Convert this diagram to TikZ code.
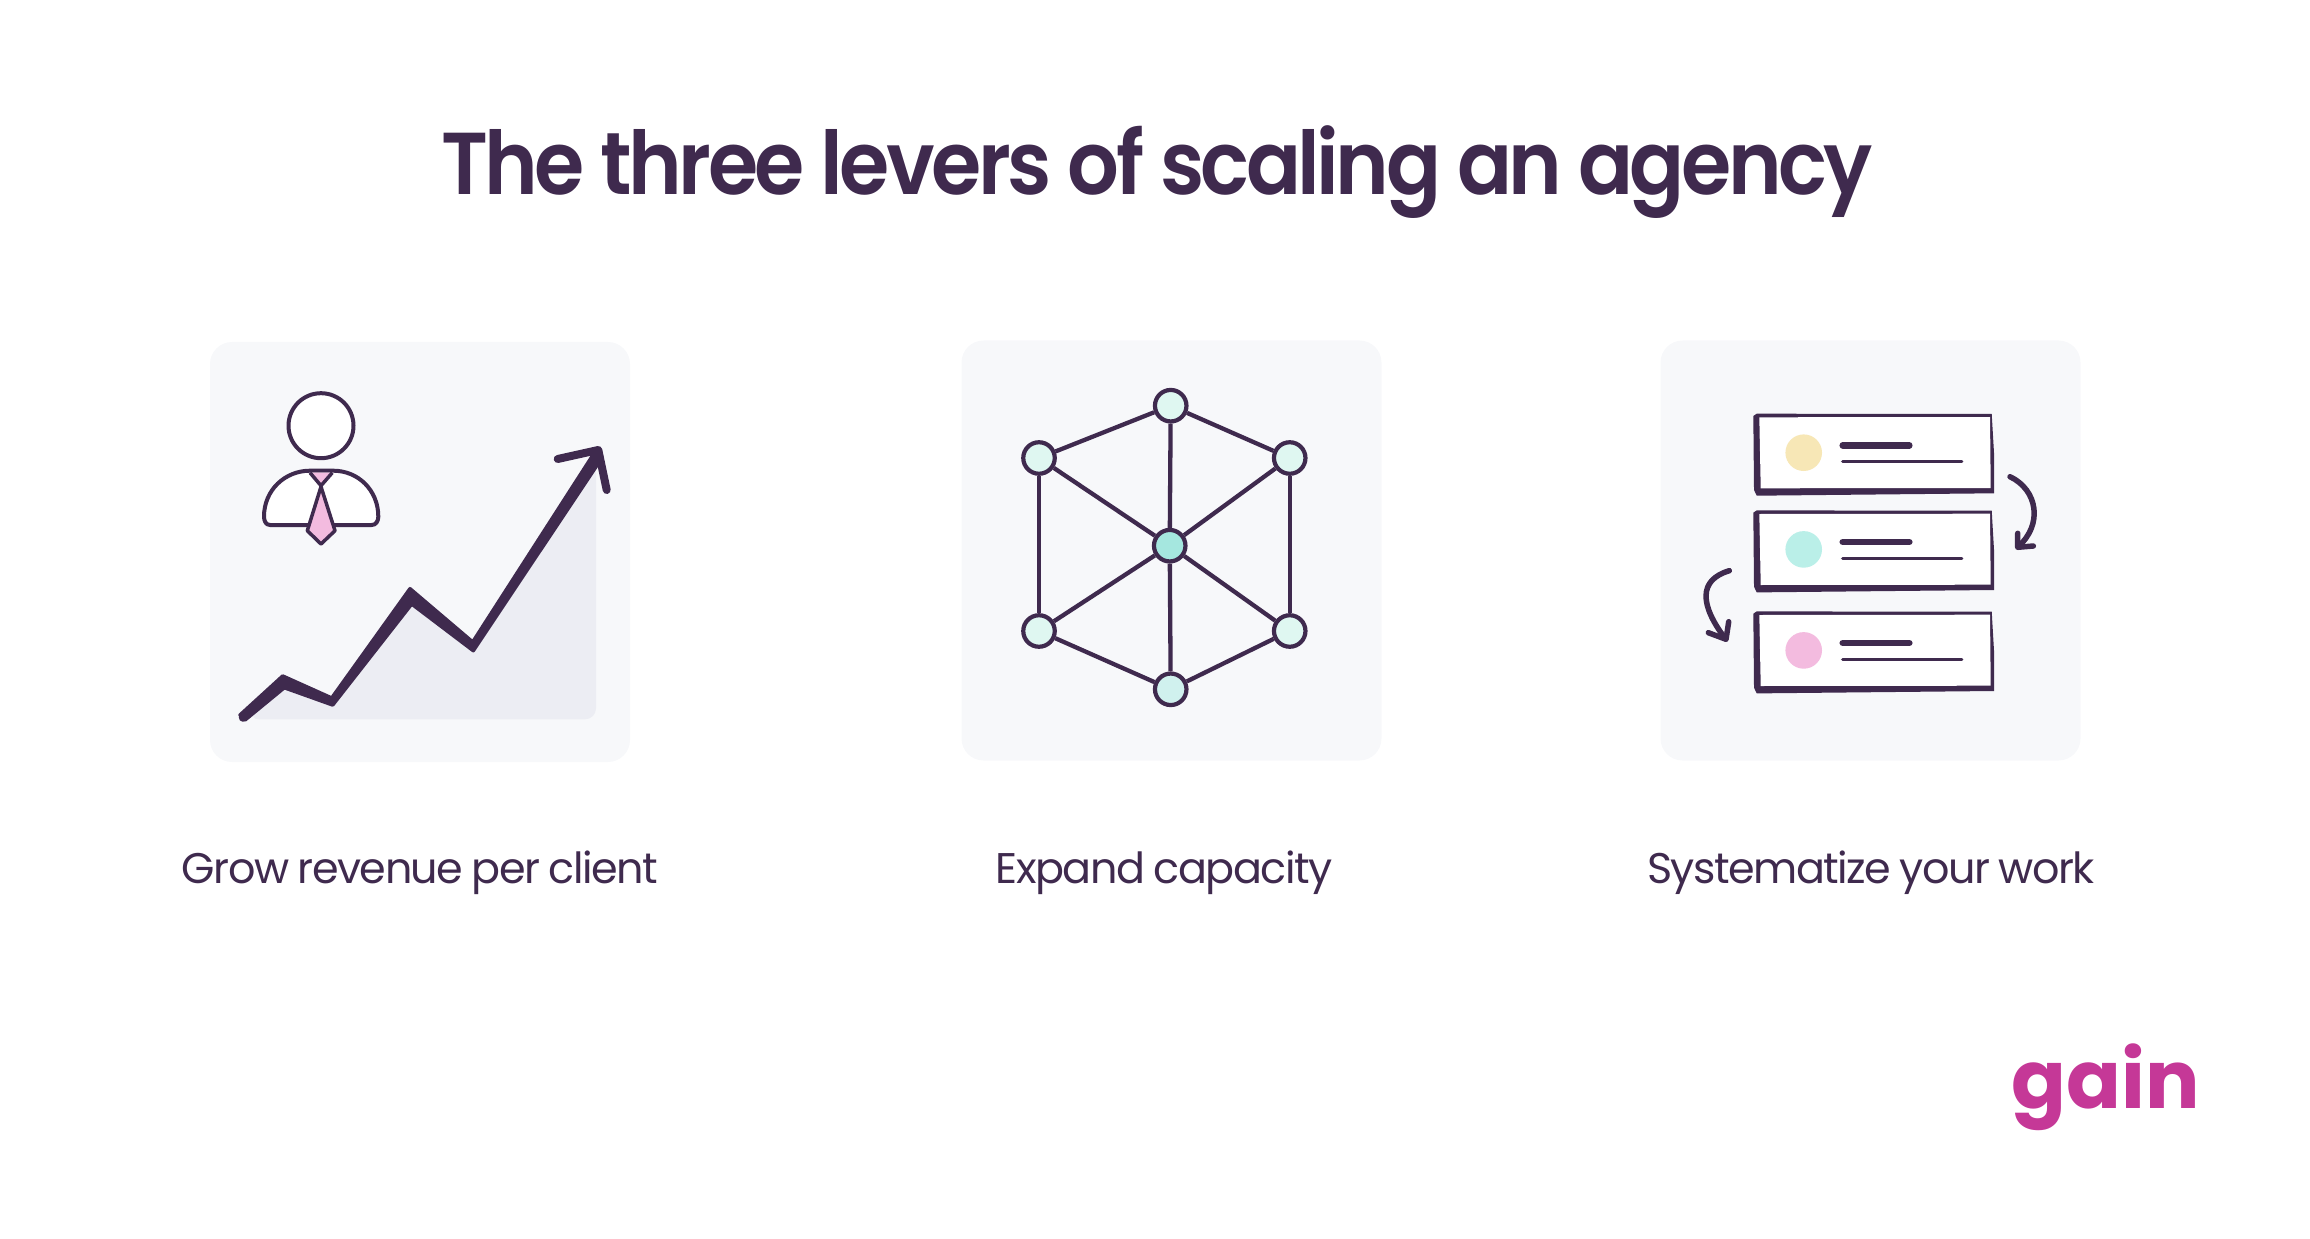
\documentclass[tikz,border=0pt]{standalone}
\usepackage{fontspec}
\setmainfont[LetterSpace=-3.5,WordSpace=.85]{Poppins}
\newfontfamily\titlefont[LetterSpace=-4,FakeStretch=.925]{Poppins SemiBold}
\newfontfamily\logofont{Poppins}
\definecolor{inkpurple}{HTML}{3F2A4E}
\definecolor{cardgrey}{HTML}{F7F8FA}
\definecolor{areagrey}{HTML}{ECEDF3}
\definecolor{tiepink}{HTML}{F3BBDF}
\definecolor{nodemint}{HTML}{DFF7F1}
\definecolor{nodeteal}{HTML}{A5E7DF}
\definecolor{nodepale}{HTML}{D0F1EE}
\definecolor{dotyellow}{HTML}{F7E7B6}
\definecolor{dotteal}{HTML}{BAEFE8}
\definecolor{logopink}{HTML}{C53897}
\tikzset{
    card/.style={fill=cardgrey, rounded corners=.22cm, minimum width=4.2cm, minimum height=4.2cm, inner sep=0},
    caption/.style={text=inkpurple, font=\fontsize{12.2}{14}\selectfont, anchor=base, inner sep=0},
    hub/.style={circle, draw=inkpurple, line width=.042cm, inner sep=0, minimum size=.315cm},
    edge/.style={draw=inkpurple, line width=.043cm},
    sketch/.style={draw=inkpurple, line width=.055cm, line cap=round, line join=round}
}
\begin{document}
\begin{tikzpicture}[y=-1cm]
    \useasboundingbox (0, 0) rectangle (23.10, 12.39);

    \node[text=inkpurple, font=\titlefont\fontsize{25}{30}\selectfont, anchor=base, inner sep=0] (title) at (11.57, 1.95) {The three levers of scaling an agency};

    \node[card] (cardgrow) at (4.20, 5.52) {};
    \node[card] (cardexpand) at (11.715, 5.505) {};
    \node[card] (cardsystem) at (18.705, 5.505) {};

    \node[caption] (capgrow) at (4.20, 8.83) {Grow revenue per client};
    \node[caption] (capexpand) at (11.64, 8.83) {Expand capacity};
    \node[caption] (capsystem) at (18.71, 8.83) {Systematize your work};

    % chart
    \fill[areagrey, rounded corners=.11cm] (2.48, 7.193) -- (2.833, 6.83) -- (3.327, 7.03) -- (4.10, 5.967) -- (4.733, 6.483) -- (5.96, 4.63) -- (5.96, 7.193) -- cycle;
    \filldraw[inkpurple, line width=.035cm, line join=round] (2.40, 7.15) -- (2.827, 6.76) -- (3.317, 6.98) -- (4.10, 5.887) -- (4.727, 6.42) -- (5.973, 4.483) -- (5.983, 4.633) -- (4.733, 6.507) -- (4.117, 6.04) -- (3.327, 7.05) -- (2.843, 6.877) -- (2.45, 7.20) -- cycle;
    \draw[inkpurple, line width=.085cm, line cap=round] (2.43, 7.175) -- (2.60, 7.02);
    \draw[inkpurple, line width=.08cm, line cap=round, line join=round] (5.577, 4.59) -- (5.983, 4.50) -- (6.067, 4.90);

    % person
    \filldraw[fill=white, draw=inkpurple, line width=.04cm] (3.21, 4.257) circle (.325);
    \filldraw[fill=white, draw=inkpurple, line width=.04cm, line join=round] (2.70, 5.25) .. controls (2.66, 5.25) and (2.64, 5.21) .. (2.64, 5.167) .. controls (2.64, 4.90) and (2.85, 4.707) .. (3.10, 4.707) -- (3.333, 4.707) .. controls (3.58, 4.707) and (3.783, 4.90) .. (3.783, 5.167) .. controls (3.783, 5.21) and (3.76, 5.25) .. (3.717, 5.25) -- cycle;
    \filldraw[fill=tiepink, draw=inkpurple, line width=.035cm, line join=round] (3.10, 4.727) -- (3.21, 4.857) -- (3.323, 4.727);
    \filldraw[fill=tiepink, draw=inkpurple, line width=.035cm, line join=round] (3.21, 4.867) -- (3.073, 5.307) -- (3.21, 5.44) -- (3.35, 5.307) -- cycle;

    % network
    \node[hub, fill=nodemint] (top) at (11.707, 4.057) {};
    \node[hub, fill=nodemint] (upleft) at (10.39, 4.58) {};
    \node[hub, fill=nodemint] (upright) at (12.897, 4.58) {};
    \node[hub, fill=nodeteal] (centre) at (11.697, 5.457) {};
    \node[hub, fill=nodemint] (lowleft) at (10.39, 6.31) {};
    \node[hub, fill=nodemint] (lowright) at (12.897, 6.31) {};
    \node[hub, fill=nodepale] (bottom) at (11.707, 6.893) {};

    \draw[edge] (top) -- (upleft);
    \draw[edge] (top) -- (upright);
    \draw[edge] (top) -- (centre);
    \draw[edge] (upleft) -- (lowleft);
    \draw[edge] (upright) -- (lowright);
    \draw[edge] (upleft) -- (centre);
    \draw[edge] (upright) -- (centre);
    \draw[edge] (lowleft) -- (centre);
    \draw[edge] (lowright) -- (centre);
    \draw[edge] (centre) -- (bottom);
    \draw[edge] (lowleft) -- (bottom);
    \draw[edge] (lowright) -- (bottom);

    % list rows
    \foreach \rowshift/\dotcol in {0/dotyellow, .967/dotteal, 1.977/tiepink} {
        \begin{scope}[yshift=-\rowshift cm]
            \fill[inkpurple, line join=round] (17.533, 4.16) -- (17.567, 4.137) -- (19.917, 4.14) -- (19.94, 4.533) -- (19.94, 4.933) -- (17.567, 4.957) -- (17.54, 4.90) -- cycle;
            \fill[white] (17.593, 4.173) -- (19.90, 4.17) -- (19.907, 4.88) -- (17.607, 4.883) -- cycle;
            \fill[\dotcol] (18.037, 4.527) circle (.183);
            \draw[inkpurple, line width=.065cm, line cap=round] (18.427, 4.453) -- (19.093, 4.453);
            \draw[inkpurple, line width=.035cm, line cap=round] (18.427, 4.617) -- (19.617, 4.617);
        \end{scope}
    }

    % loop arrows
    \draw[sketch] (20.10, 4.767) .. controls (20.38, 4.90) and (20.43, 5.25) .. (20.18, 5.467);
    \draw[sketch] (20.177, 5.333) -- (20.177, 5.473) -- (20.333, 5.46);
    \draw[sketch] (17.293, 5.707) .. controls (16.98, 5.80) and (17.00, 6.05) .. (17.25, 6.383);
    \draw[sketch] (17.083, 6.327) -- (17.26, 6.393) -- (17.287, 6.217);

    \node[text=logopink, font=\logofont\bfseries\fontsize{23}{26}\selectfont, anchor=base, inner sep=0] (logo) at (21.06, 11.08) {gain};
\end{tikzpicture}
\end{document}
